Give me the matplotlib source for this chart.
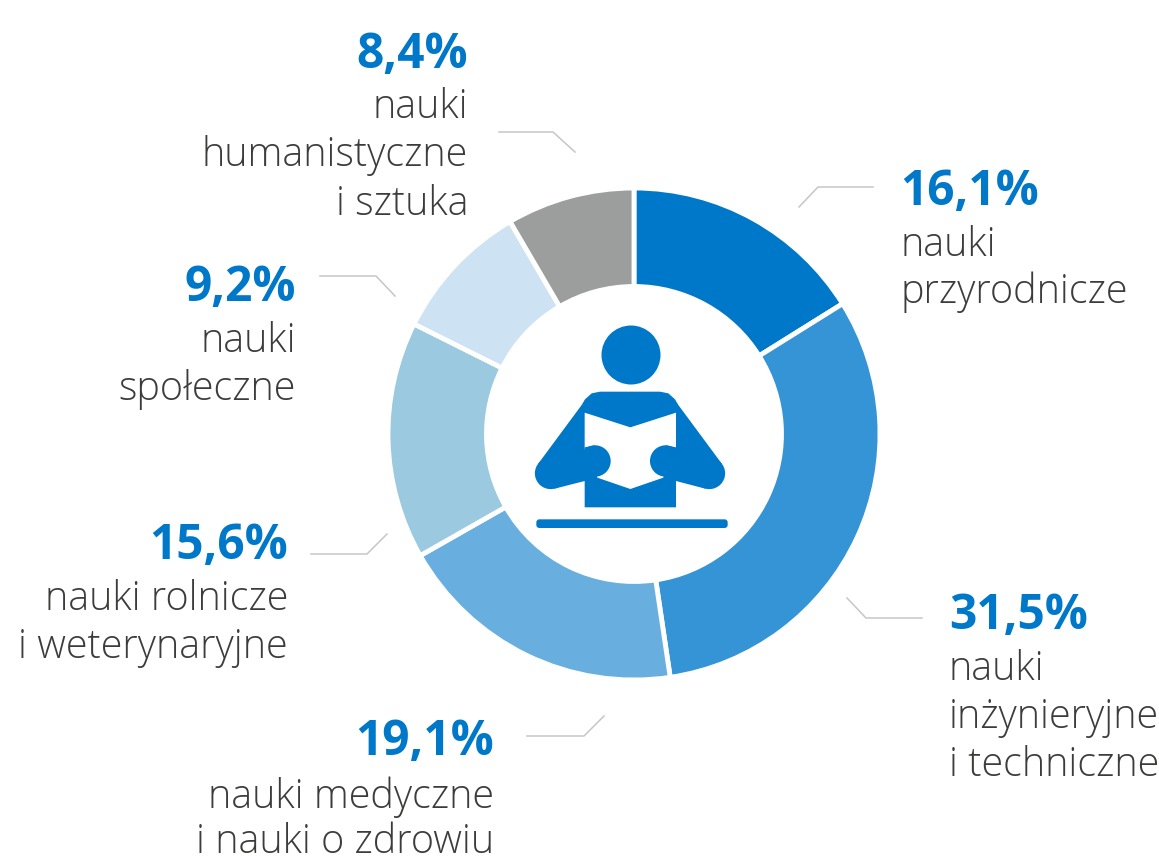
import matplotlib
matplotlib.use("Agg")
import matplotlib.pyplot as plt
from matplotlib.patches import Circle, FancyBboxPatch, Polygon

values = [16.1, 31.5, 19.1, 15.6, 9.2, 8.4]
value_labels = ["16,1%", "31,5%", "19,1%", "15,6%", "9,2%", "8,4%"]
category_lines = [
    ["nauki", "przyrodnicze"],
    ["nauki", "inżynieryjne", "i techniczne"],
    ["nauki medyczne", "i nauki o zdrowiu"],
    ["nauki rolnicze", "i weterynaryjne"],
    ["nauki", "społeczne"],
    ["nauki", "humanistyczne", "i sztuka"],
]
colors = ["#0078c9", "#3494d6", "#68afe0", "#9ac9e0", "#cde3f4", "#9c9e9d"]

# label anchor x, alignment, baselines (pixels from top)
label_x = [900, 949, 494, 288, 296, 468]
label_ha = ["left", "left", "right", "right", "right", "right"]
label_base = [
    [205, 256, 303],
    [629, 680, 728, 776],
    [755, 808, 853],
    [559, 610, 658],
    [301, 352, 400],
    [68, 118, 166, 215],
]
leaders = [
    [(799, 207), (818, 187), (873, 187)],
    [(847, 598), (866, 618), (922, 618)],
    [(527, 736), (584, 736), (604, 716)],
    [(311, 554), (367, 554), (387, 534)],
    [(320, 276), (376, 276), (395, 296)],
    [(499, 132), (553, 132), (575, 152)],
]

W, H = 1159, 856
BLUE = "#0078c9"


def py(y):
    return H - y


def iz(x, y):
    return (510 + x / 3, py(310 + y / 3))


fig = plt.figure(figsize=(W / 100, H / 100), dpi=100)
ax = fig.add_axes([0, 0, 1, 1])

ax.pie(
    values,
    colors=colors,
    startangle=90,
    counterclock=False,
    center=(634, py(434)),
    radius=246,
    wedgeprops=dict(width=98.5, edgecolor="white", linewidth=3.5),
    frame=True,
)
ax.set_xlim(0, W)
ax.set_ylim(0, H)
ax.set_aspect("equal")
ax.axis("off")

for pts in leaders:
    ax.plot([p[0] for p in pts], [py(p[1]) for p in pts], color="#c6c6c6", lw=1.1)

for i, lab in enumerate(value_labels):
    bases = label_base[i]
    ax.text(label_x[i], py(bases[0]), lab, ha=label_ha[i], va="baseline",
            fontsize=34.5, fontweight="bold", color=BLUE, family="Open Sans")
    for line, b in zip(category_lines[i], bases[1:]):
        ax.text(label_x[i], py(b), line, ha=label_ha[i], va="baseline",
                fontsize=28.5, fontweight="light", color="#3c3c3b", family="Open Sans")

# reading figure in the middle of the ring
body = [iz(270, 245), iz(450, 245), iz(475, 250), iz(495, 268), iz(505, 285), iz(636, 462),
        iz(586, 536), iz(498, 513), iz(498, 592), iz(224, 592), iz(224, 513),
        iz(134, 536), iz(84, 462), iz(215, 285), iz(225, 268), iz(245, 250)]
ax.add_patch(Polygon(body, closed=True, facecolor=BLUE, edgecolor="none"))
ax.add_patch(Circle(iz(122, 490), 15.8, facecolor=BLUE, edgecolor="none"))
ax.add_patch(Circle(iz(598, 490), 15.8, facecolor=BLUE, edgecolor="none"))
ax.add_patch(Circle(iz(363, 135), 29.5, facecolor=BLUE, edgecolor="none"))
book = [iz(224, 308), iz(361, 352), iz(498, 308), iz(498, 420), iz(468, 453),
        iz(460, 503), iz(361, 537), iz(262, 503), iz(255, 453), iz(224, 420)]
ax.add_patch(Polygon(book, closed=True, facecolor="white", edgecolor="none"))
ax.add_patch(Circle(iz(255, 453), 15.7, facecolor=BLUE, edgecolor="none"))
ax.add_patch(Circle(iz(467, 453), 15.7, facecolor=BLUE, edgecolor="none"))
ax.add_patch(Polygon([iz(224, 412), iz(255, 406), iz(255, 500), iz(224, 513)],
                     closed=True, facecolor=BLUE, edgecolor="none"))
ax.add_patch(Polygon([iz(498, 412), iz(467, 406), iz(467, 500), iz(498, 513)],
                     closed=True, facecolor=BLUE, edgecolor="none"))
x0, y0 = iz(82, 654)
x1, y1 = iz(650, 628)
ax.add_patch(FancyBboxPatch((x0, y0 + 1), x1 - x0, y1 - y0 - 2,
                            boxstyle="round,pad=1,rounding_size=3",
                            facecolor=BLUE, edgecolor="none"))

fig.savefig("out.png", dpi=100)
